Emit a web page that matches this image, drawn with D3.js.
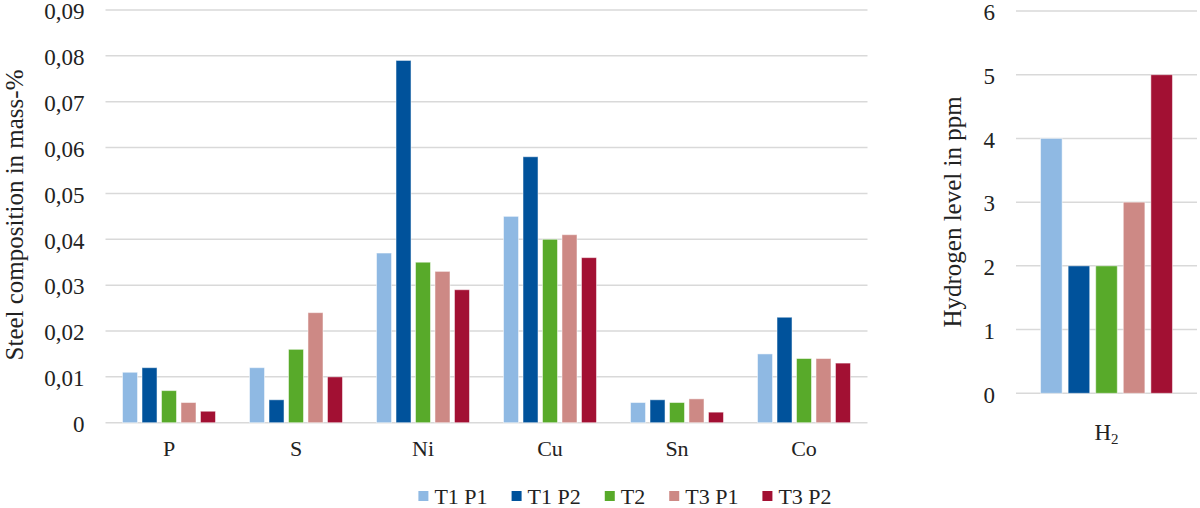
<!DOCTYPE html>
<html>
<head>
<meta charset="utf-8">
<script src="https://cdn.jsdelivr.net/npm/d3@7"></script>
<style>
  body { margin: 0; background: #fff; }
  svg text { font-family: "Liberation Serif", "Times New Roman", serif; fill: #222; }
</style>
</head>
<body>
<svg id="chart" width="1200" height="508"></svg>
<script>
// data
var elements = ["P", "S", "Ni", "Cu", "Sn", "Co"];
var series = ["T1 P1", "T1 P2", "T2", "T3 P1", "T3 P2"];
var colors = ["#8fb9e3", "#00529b", "#58aa2a", "#cd8985", "#a21033"];

var t1p1 = [0.011, 0.012, 0.037, 0.045, 0.0044, 0.015];
var t1p2 = [0.012, 0.005, 0.079, 0.058, 0.005, 0.023];
var t2   = [0.007, 0.016, 0.035, 0.040, 0.0044, 0.014];
var t3p1 = [0.0044, 0.024, 0.033, 0.041, 0.0052, 0.014];
var t3p2 = [0.0025, 0.010, 0.029, 0.036, 0.0023, 0.013];
var steelValues = [t1p1, t1p2, t2, t3p1, t3p2];

var hydrogen = [4, 2, 2, 3, 5];
var steelTicks = [0, 0.01, 0.02, 0.03, 0.04, 0.05, 0.06, 0.07, 0.08, 0.09];
var hydroTicks = [0, 1, 2, 3, 4, 5, 6];

var FONT = "'Liberation Serif', 'Times New Roman', serif";
var svg = d3.select("#chart");
var comma = d3.formatLocale({decimal: ",", thousands: ".", grouping: [3], currency: ["", ""]});
var fmt2 = comma.format(".2f");

// ---- left chart: steel composition ----
var L = {x0: 105.5, x1: 867.5, y0: 422.7, y1: 10};

var x0 = d3.scaleBand().domain(elements).range([L.x0, L.x1])
  .paddingInner(0.268).paddingOuter(0.134);
var x1 = d3.scaleBand().domain(series).range([0, x0.bandwidth()]).paddingInner(0.23);
var y = d3.scaleLinear().domain([0, 0.09]).range([L.y0, L.y1]);

svg.append("g").selectAll("line").data(steelTicks).enter().append("line")
  .attr("x1", L.x0).attr("x2", L.x1)
  .attr("y1", function(d){ return y(d); }).attr("y2", function(d){ return y(d); })
  .attr("stroke", "#d9d9d9").attr("stroke-width", 1.5);

var yAxisL = svg.append("g")
  .attr("transform", "translate(" + (L.x0 - 21) + ",0)")
  .call(d3.axisLeft(y).tickValues(steelTicks).tickSize(0)
    .tickFormat(function(d){ return d === 0 ? "0" : fmt2(d); }));
yAxisL.attr("font-family", null).attr("font-size", null);
yAxisL.select(".domain").remove();
yAxisL.selectAll("text").attr("font-size", 23).attr("x", 0).attr("dy", "0.38em")
  .attr("fill", "#222").style("font-family", FONT);

var groups = svg.append("g").selectAll("g").data(elements).enter().append("g")
  .attr("transform", function(d){ return "translate(" + x0(d) + ",0)"; });

groups.selectAll("rect")
  .data(function(d, i){ return series.map(function(s, k){ return {s: s, k: k, v: steelValues[k][i]}; }); })
  .enter().append("rect")
  .attr("x", function(d){ return x1(d.s); })
  .attr("width", x1.bandwidth())
  .attr("y", function(d){ return y(d.v); })
  .attr("height", function(d){ return y(0) - y(d.v); })
  .attr("fill", function(d){ return colors[d.k]; })
  .attr("stroke", "#ffffff").attr("stroke-opacity", 0.5).attr("stroke-width", 1);

var xAxisL = svg.append("g")
  .attr("transform", "translate(0," + (L.y0 + 18) + ")")
  .call(d3.axisBottom(x0).tickSize(0));
xAxisL.attr("font-family", null).attr("font-size", null);
xAxisL.select(".domain").remove();
xAxisL.selectAll("text").attr("font-size", 22).attr("y", 0).attr("dy", "0.71em")
  .attr("fill", "#222").style("font-family", FONT);

svg.append("text")
  .attr("transform", "translate(23,215) rotate(-90)")
  .attr("text-anchor", "middle")
  .attr("font-size", 25)
  .text("Steel composition in mass-%");

// ---- right chart: hydrogen ----
var R = {x0: 1016, x1: 1197, y0: 393.3, y1: 11};

var hx0 = d3.scaleBand().domain(["H2"]).range([R.x0, R.x1]).paddingOuter(0.186);
var hx1 = d3.scaleBand().domain(series).range([0, hx0.bandwidth()]).paddingInner(0.217);
var hy = d3.scaleLinear().domain([0, 6]).range([R.y0, R.y1]);

svg.append("g").selectAll("line").data(hydroTicks).enter().append("line")
  .attr("x1", R.x0).attr("x2", R.x1)
  .attr("y1", function(d){ return hy(d); }).attr("y2", function(d){ return hy(d); })
  .attr("stroke", "#d9d9d9").attr("stroke-width", 1.5);

var yAxisR = svg.append("g")
  .attr("transform", "translate(" + (R.x0 - 21) + ",0)")
  .call(d3.axisLeft(hy).tickValues(hydroTicks).tickSize(0).tickFormat(d3.format("d")));
yAxisR.attr("font-family", null).attr("font-size", null);
yAxisR.select(".domain").remove();
yAxisR.selectAll("text").attr("font-size", 23).attr("x", 0).attr("dy", "0.38em")
  .attr("fill", "#222").style("font-family", FONT);

svg.append("g").attr("transform", "translate(" + hx0("H2") + ",0)")
  .selectAll("rect").data(hydrogen).enter().append("rect")
  .attr("x", function(d, i){ return hx1(series[i]); })
  .attr("width", hx1.bandwidth())
  .attr("y", function(d){ return hy(d); })
  .attr("height", function(d){ return hy(0) - hy(d); })
  .attr("fill", function(d, i){ return colors[i]; })
  .attr("stroke", "#ffffff").attr("stroke-opacity", 0.5).attr("stroke-width", 1);

var h2 = svg.append("text")
  .attr("x", hx0("H2") + hx0.bandwidth() / 2)
  .attr("y", 440)
  .attr("text-anchor", "middle")
  .attr("font-size", 23);
h2.append("tspan").text("H");
h2.append("tspan").attr("font-size", 15).attr("dy", 4).text("2");

svg.append("text")
  .attr("transform", "translate(961,212) rotate(-90)")
  .attr("text-anchor", "middle")
  .attr("font-size", 25)
  .text("Hydrogen level in ppm");

// ---- legend ----
var legend = svg.append("g").attr("transform", "translate(0,504)");
var items = legend.selectAll("g").data(series).enter().append("g");
items.append("rect")
  .attr("y", -13).attr("width", 10).attr("height", 10)
  .attr("fill", function(d, i){ return colors[i]; });
items.append("text")
  .attr("x", 16)
  .attr("font-size", 22)
  .text(function(d){ return d; });

var widths = [];
items.each(function(){ widths.push(this.getBBox().width); });
var gap = 24;
var total = d3.sum(widths) + gap * (widths.length - 1);
var cx = 415 + (835 - 415) / 2;
var pos = cx - total / 2;
items.attr("transform", function(d, i){
  var p = pos;
  pos += widths[i] + gap;
  return "translate(" + p + ",0)";
});
</script>
</body>
</html>
